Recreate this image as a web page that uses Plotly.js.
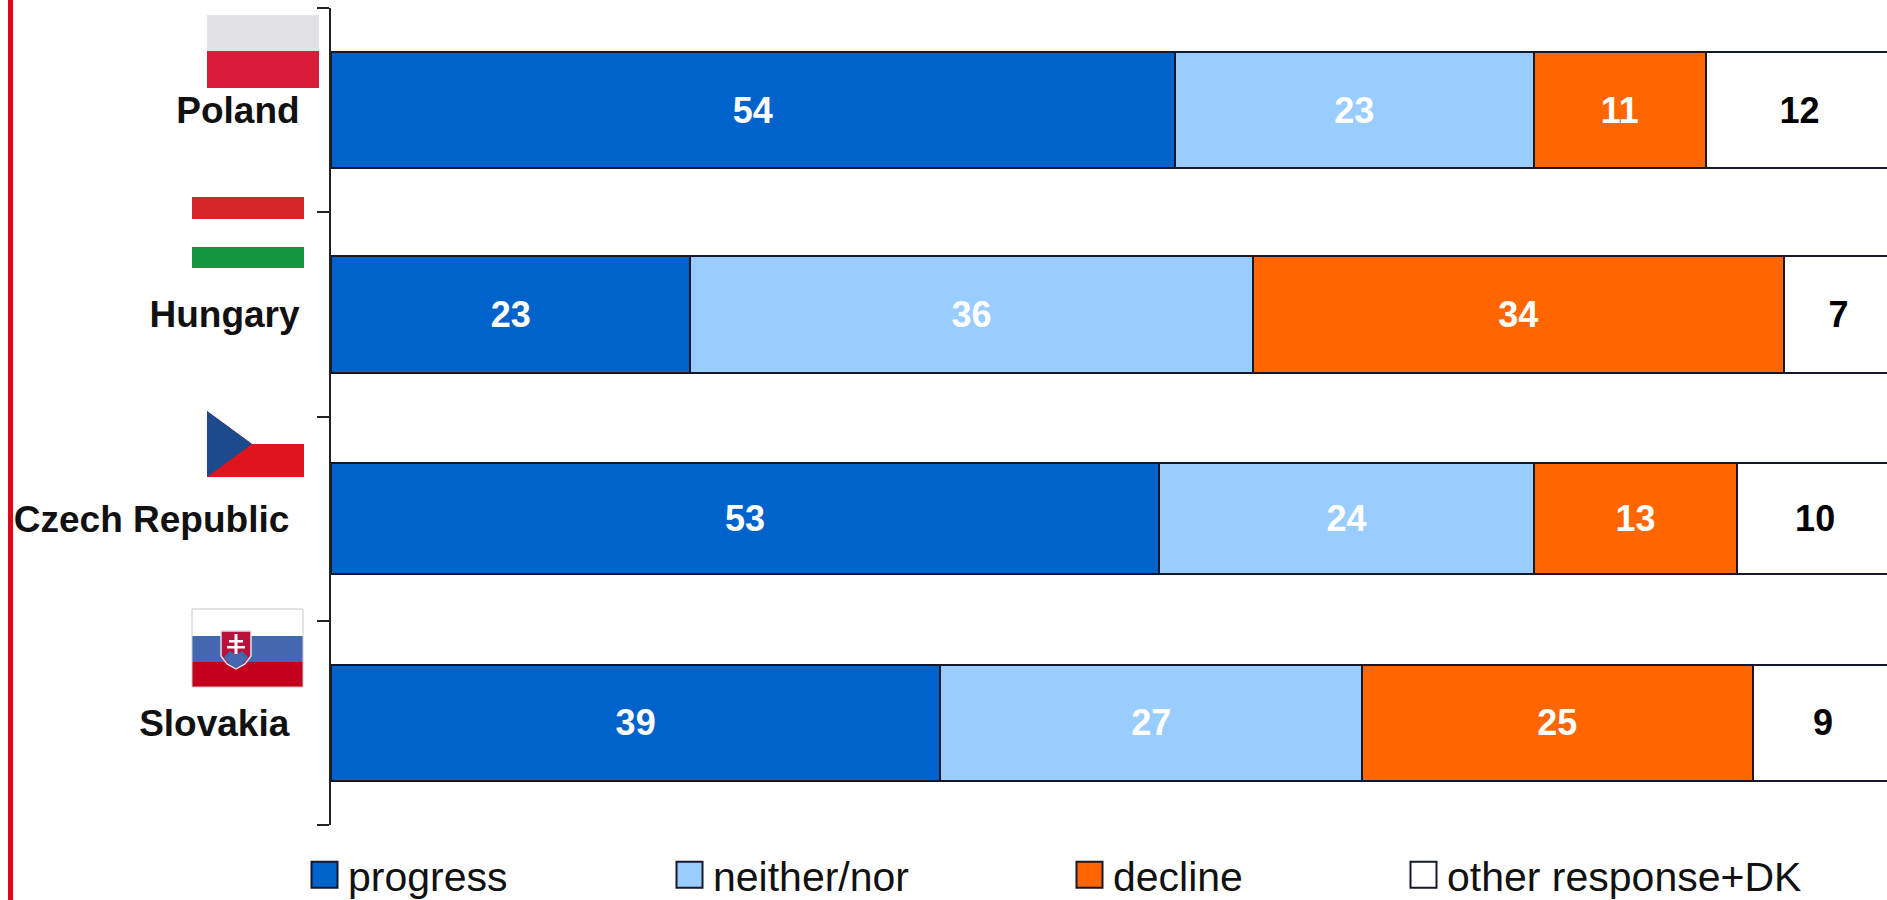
<!DOCTYPE html>
<html>
<head>
<meta charset="utf-8">
<script src="https://cdn.plot.ly/plotly-3.0.1.min.js"></script>
<style>html,body{margin:0;padding:0;background:#fff;overflow:hidden}</style>
</head>
<body>
<div id="chart" style="width:1887px;height:900px"></div>
<script>
const categories = ["Poland", "Hungary", "Czech Republic", "Slovakia"];
const tickLabels = ["Poland", "Hungary", "Czech Republic\u00a0", "Slovakia\u00a0"];
const progress = [54, 23, 53, 39];
const neitherNor = [23, 36, 24, 27];
const decline = [11, 34, 13, 25];
const otherResponse = [12, 7, 10, 9];
const barThickness = [0.565, 0.575, 0.547, 0.565];

const W = 1887, H = 900, L = 331, T = 8, B = 75;
const PW = W - L, PH = H - T - B;
const px = v => (v - L) / PW;
const py = v => (H - B - v) / PH;

function rect(x0, y0, x1, y1, fill, line) {
  return {type: 'rect', xref: 'paper', yref: 'paper', x0: px(x0), x1: px(x1), y0: py(y0), y1: py(y1),
    fillcolor: fill, line: line ? {color: line, width: 1} : {width: 0}, layer: 'above'};
}
function poly(pts, fill, line) {
  const d = pts.map((p, i) => (i ? 'L' : 'M') + px(p[0]) + ',' + py(p[1])).join(' ') + ' Z';
  return {type: 'path', xref: 'paper', yref: 'paper', path: d, fillcolor: fill,
    line: line ? {color: line, width: 1.5} : {width: 0}, layer: 'above'};
}

const decorations = [
  rect(8, 0, 13, 900, '#e0061c'),
  // Poland
  rect(207, 15, 319, 51, '#e2e2e4'),
  rect(207, 51, 319, 88, '#d81c3a'),
  // Hungary
  rect(192, 197, 304, 219, '#d6262a'),
  rect(192, 247, 304, 268, '#12963f'),
  // Czech Republic
  poly([[207, 411], [252, 444], [304, 444], [304, 477], [207, 477]], '#e0141c'),
  poly([[207, 411], [252, 444], [207, 477]], '#1c4a8c'),
  // Slovakia
  rect(192, 609, 303, 636, '#ffffff'),
  rect(192, 636, 303, 662, '#4468b0'),
  rect(192, 662, 303, 687, '#c4001e'),
  rect(192, 609, 303, 687, 'rgba(0,0,0,0)', '#c8c8c8'),
  poly([[221, 631], [251, 631], [251, 656], [245, 664], [236, 669], [227, 664], [221, 656]], '#b8123a', '#dfe3ee'),
  poly([[224, 657], [230, 651], [236, 655], [242, 651], [248, 657], [243, 664], [236, 668], [229, 664]], '#4468b0'),
  rect(234.5, 634, 237.5, 654, '#ffffff'),
  rect(229, 640, 243, 642.5, '#ffffff'),
  rect(227, 646, 245, 648.5, '#ffffff')
];

const outline = {color: '#15182a', width: 2};
function series(name, values, color, textColor, legendId) {
  return {type: 'bar', orientation: 'h', name: name, x: values, y: categories, width: barThickness,
    marker: {color: color, line: outline}, text: values.map(String),
    textposition: 'inside', insidetextanchor: 'middle', textangle: 0, constraintext: 'none',
    insidetextfont: {family: 'Liberation Sans, Arial, sans-serif', size: 36, color: textColor, weight: 'bold'},
    legend: legendId, hoverinfo: 'x+y+name'};
}
const traces = [
  series('progress', progress, '#0063cc', '#ffffff', 'legend'),
  series('neither/nor', neitherNor, '#99ccff', '#ffffff', 'legend2'),
  series('decline', decline, '#ff6600', '#ffffff', 'legend3'),
  series('other response+DK', otherResponse, '#ffffff', '#000000', 'legend4')
];
function legendAt(x) {
  return {orientation: 'h', x: px(x), xanchor: 'left', y: py(875), yanchor: 'middle',
    bgcolor: 'rgba(0,0,0,0)', borderwidth: 0, itemwidth: 37, itemclick: false, itemdoubleclick: false,
    font: {family: 'Liberation Sans, Arial, sans-serif', size: 41, color: '#111111'}};
}
const layout = {
  width: W, height: H, paper_bgcolor: '#ffffff', plot_bgcolor: '#ffffff',
  margin: {l: L, r: 0, t: T, b: B, pad: 0, autoexpand: false},
  barmode: 'stack', showlegend: true,
  xaxis: {range: [0, 99.6], visible: false, fixedrange: true},
  yaxis: {type: 'category', range: [3.5, -0.5], tickmode: 'array', tickvals: categories, ticktext: tickLabels,
    tickson: 'boundaries', ticks: 'outside', ticklen: 12, tickwidth: 2, tickcolor: '#222222',
    showline: true, linecolor: '#222222', linewidth: 2, showgrid: false, zeroline: false, fixedrange: true,
    ticklabelstandoff: 22,
    tickfont: {family: 'Liberation Sans, Arial, sans-serif', size: 37, color: '#111111', weight: 'bold'}},
  legend: legendAt(301),
  legend2: legendAt(666),
  legend3: legendAt(1066),
  legend4: legendAt(1400),
  shapes: decorations
};
const gd = document.getElementById('chart');
function enlargeSwatches() {
  gd.querySelectorAll('.legendpoints path').forEach(p => {
    p.setAttribute('d', 'M13,13H-13V-13H13Z');
    p.style.d = "path('M13,13H-13V-13H13Z')";
  });
}
Plotly.newPlot(gd, traces, layout, {displayModeBar: false}).then(() => {
  gd.on('plotly_afterplot', enlargeSwatches);
  enlargeSwatches();
  setTimeout(enlargeSwatches, 100);
  setTimeout(enlargeSwatches, 500);
});
</script>
</body>
</html>
